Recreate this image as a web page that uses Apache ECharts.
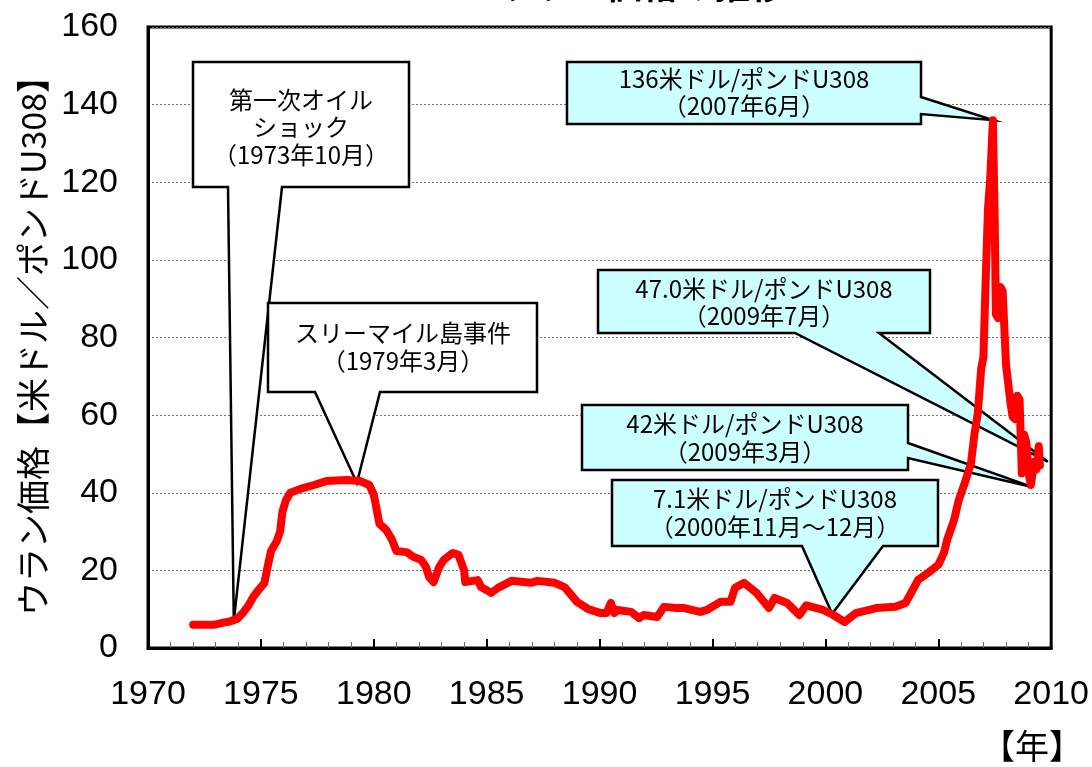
<!DOCTYPE html>
<html>
<head>
<meta charset="utf-8">
<script src="https://cdn.jsdelivr.net/npm/echarts@6/dist/echarts.min.js"></script>
<style>
  html, body { margin: 0; padding: 0; background: #fff; }
  #chart { width: 1092px; height: 767px; }
</style>
</head>
<body>
<div id="chart"></div>
<script>
// uranium spot price
const years = [
  1972.0, 1972.5, 1972.95, 1973.3, 1973.6, 1973.95, 1974.2, 1974.45, 1974.7, 1974.9,
  1975.15, 1975.3, 1975.45, 1975.7, 1975.85, 1975.95, 1976.1, 1976.3, 1976.75, 1977.35,
  1977.9, 1978.8, 1979.4, 1979.8, 1980.0, 1980.15, 1980.25, 1980.55, 1980.8, 1981.0,
  1981.45, 1981.75, 1982.1, 1982.3, 1982.45, 1982.65, 1982.9, 1983.1, 1983.5, 1983.75,
  1984.0, 1984.05, 1984.6, 1984.75, 1985.2, 1985.5, 1986.1, 1986.95, 1987.25, 1988.0,
  1988.45, 1989.0, 1989.5, 1990.05, 1990.3, 1990.5, 1990.65, 1990.8, 1991.4, 1991.75,
  1991.95, 1992.55, 1992.85, 1993.4, 1993.75, 1994.45, 1994.75, 1995.35, 1995.8, 1996.0,
  1996.4, 1996.95, 1997.5, 1997.75, 1998.3, 1998.85, 1999.15, 1999.9, 2000.35, 2000.85,
  2001.35, 2002.25, 2003.1, 2003.55, 2004.1, 2004.6, 2005.0, 2005.25, 2005.4, 2005.7,
  2005.9, 2006.2, 2006.45, 2006.6, 2006.75, 2006.9, 2007.0, 2007.1, 2007.2, 2007.3,
  2007.42, 2007.5, 2007.55, 2007.65, 2007.75, 2007.85, 2008.0, 2008.2, 2008.3, 2008.4,
  2008.5, 2008.6, 2008.7, 2008.8, 2008.9, 2009.0, 2009.1, 2009.25, 2009.35, 2009.45,
  2009.5
];
const prices = [
  6, 6, 6, 6.5, 6.8, 7.5, 9, 11, 13.5, 15,
  16.7, 21, 25, 27.5, 30, 35, 38, 40, 41, 42,
  43, 43.3, 43, 42, 39.5, 35, 32, 30.4, 28, 25,
  24.7, 23.5, 22.7, 21, 18.3, 17, 20.9, 22.7, 24.5, 24,
  20, 17, 17.5, 15.7, 14.2, 15.5, 17.3, 16.8, 17.3, 16.8,
  15.7, 11.9, 10, 9, 9, 11.6, 9, 9.8, 9.3, 7.7,
  8.5, 8, 10.6, 10.3, 10.3, 9.3, 9.8, 11.9, 11.9, 15.5,
  16.8, 14.2, 10.3, 12.9, 11.6, 8.5, 11, 9.8, 8.5, 6.7,
  9, 10.3, 10.6, 11.6, 17.5, 19.6, 21.4, 24.5, 28, 33,
  38, 43, 47.7, 55, 60.5, 72, 75, 95, 113, 121,
  136, 110, 86, 85, 93, 92, 73, 63, 59.5, 59,
  65, 64, 45, 55, 53, 45, 42, 48, 46, 52,
  47
];

// callouts: text lines and the point they refer to (year, price)
const calloutLines = [
  ['第一次オイル', 'ショック', '（1973年10月）'],
  ['スリーマイル島事件', '（1979年3月）'],
  ['136米ドル/ポンドU308', '（2007年6月）'],
  ['47.0米ドル/ポンドU308', '（2009年7月）'],
  ['42米ドル/ポンドU308', '（2009年3月）'],
  ['7.1米ドル/ポンドU308', '（2000年11月～12月）']
];
const calloutTips = [
  [1973.8, 7], [1979.25, 42.5], [2007.42, 136], [2009.85, 48], [2009.15, 41.5], [2000.3, 8.8]
];

// box layout in pixels: [x0, y0, x1, y1], pointer side and base, fill
const calloutBoxes = [
  { box: [193, 62, 409, 187], side: 'bottom', base: [228, 282], fill: '#ffffff', cx: 301, ly: [100, 127, 155] },
  { box: [268, 303, 537, 392], side: 'bottom', base: [315, 380], fill: '#ffffff', cx: 403, ly: [333, 361] },
  { box: [567, 62, 921, 124], side: 'right', base: [97, 114], fill: '#ccffff', cx: 744, ly: [79, 106] },
  { box: [598, 270, 930, 333], side: 'bottom', base: [795, 879], fill: '#ccffff', cx: 764, ly: [289, 316] },
  { box: [582, 405, 908, 470], side: 'right', base: [443, 458], fill: '#ccffff', cx: 745, ly: [424, 452] },
  { box: [612, 480, 938, 546], side: 'bottom', base: [802, 883], fill: '#ccffff', cx: 775, ly: [499, 527] }
];

const numFont = '"Liberation Sans", Arial, sans-serif';
const jpFont = '"Noto Sans CJK JP", sans-serif';

const chart = echarts.init(document.getElementById('chart'));

chart.setOption({
  animation: false,
  title: {
    text: 'ウラン価格の推移',
    left: 637,
    textAlign: 'center',
    top: -38,
    textStyle: { fontFamily: jpFont, fontSize: 36, fontWeight: 'bold', color: '#000' }
  },
  grid: {
    left: 148, right: 36, top: 27, bottom: 119,
    show: true, borderColor: '#000', borderWidth: 3, backgroundColor: '#fff'
  },
  xAxis: {
    type: 'value',
    min: 1970, max: 2010, interval: 5,
    axisLine: { lineStyle: { color: '#000', width: 3 } },
    axisTick: { inside: true, length: 9, lineStyle: { color: '#000', width: 2 } },
    minorTick: { show: true, splitNumber: 5, length: 6, lineStyle: { color: '#666', width: 1 } },
    splitLine: { show: false },
    axisLabel: {
      color: '#000', fontSize: 34, fontFamily: numFont, margin: 30,
      formatter: v => String(v)
    }
  },
  yAxis: {
    type: 'value',
    min: 0, max: 160, interval: 20,
    name: 'ウラン価格【米ドル／ポンドU308】',
    nameLocation: 'middle',
    nameGap: 96,
    nameTextStyle: { fontFamily: jpFont, fontSize: 34, color: '#000' },
    axisLine: { lineStyle: { color: '#000', width: 3 } },
    axisTick: { show: false },
    splitLine: { lineStyle: { color: '#777', width: 1, type: [2, 2] } },
    axisLabel: { color: '#000', fontSize: 34, fontFamily: numFont, margin: 30 }
  },
  series: [{
    type: 'line',
    data: years.map((y, i) => [y, prices[i]]),
    showSymbol: false,
    z: 5,
    lineStyle: { color: '#ff0000', width: 8, cap: 'round', join: 'round' }
  }]
});

// build callout shapes, tip placed through the chart's own scales
const graphics = [];
calloutBoxes.forEach((c, i) => {
  const tip = chart.convertToPixel({ gridIndex: 0 }, calloutTips[i]);
  const [x0, y0, x1, y1] = c.box;
  let pts;
  if (c.side === 'bottom') {
    pts = [[x0, y0], [x1, y0], [x1, y1], [c.base[1], y1], tip, [c.base[0], y1], [x0, y1]];
  } else {
    pts = [[x0, y0], [x1, y0], [x1, c.base[0]], tip, [x1, c.base[1]], [x1, y1], [x0, y1]];
  }
  graphics.push({
    type: 'polygon', z: 1,
    shape: { points: pts },
    style: { fill: c.fill, stroke: '#000', lineWidth: 2.5, lineJoin: 'miter' }
  });
  calloutLines[i].forEach((t, k) => {
    graphics.push({
      type: 'text', z: 2,
      x: c.cx, y: c.ly[k],
      style: {
        text: t, fill: '#000', font: '24px ' + jpFont,
        textAlign: 'center', textVerticalAlign: 'middle'
      }
    });
  });
});
graphics.push({
  type: 'text', z: 2, x: 1032, y: 746,
  style: { text: '【年】', fill: '#000', font: '34px ' + jpFont, textAlign: 'center', textVerticalAlign: 'middle' }
});

chart.setOption({ graphic: graphics });
</script>
</body>
</html>
